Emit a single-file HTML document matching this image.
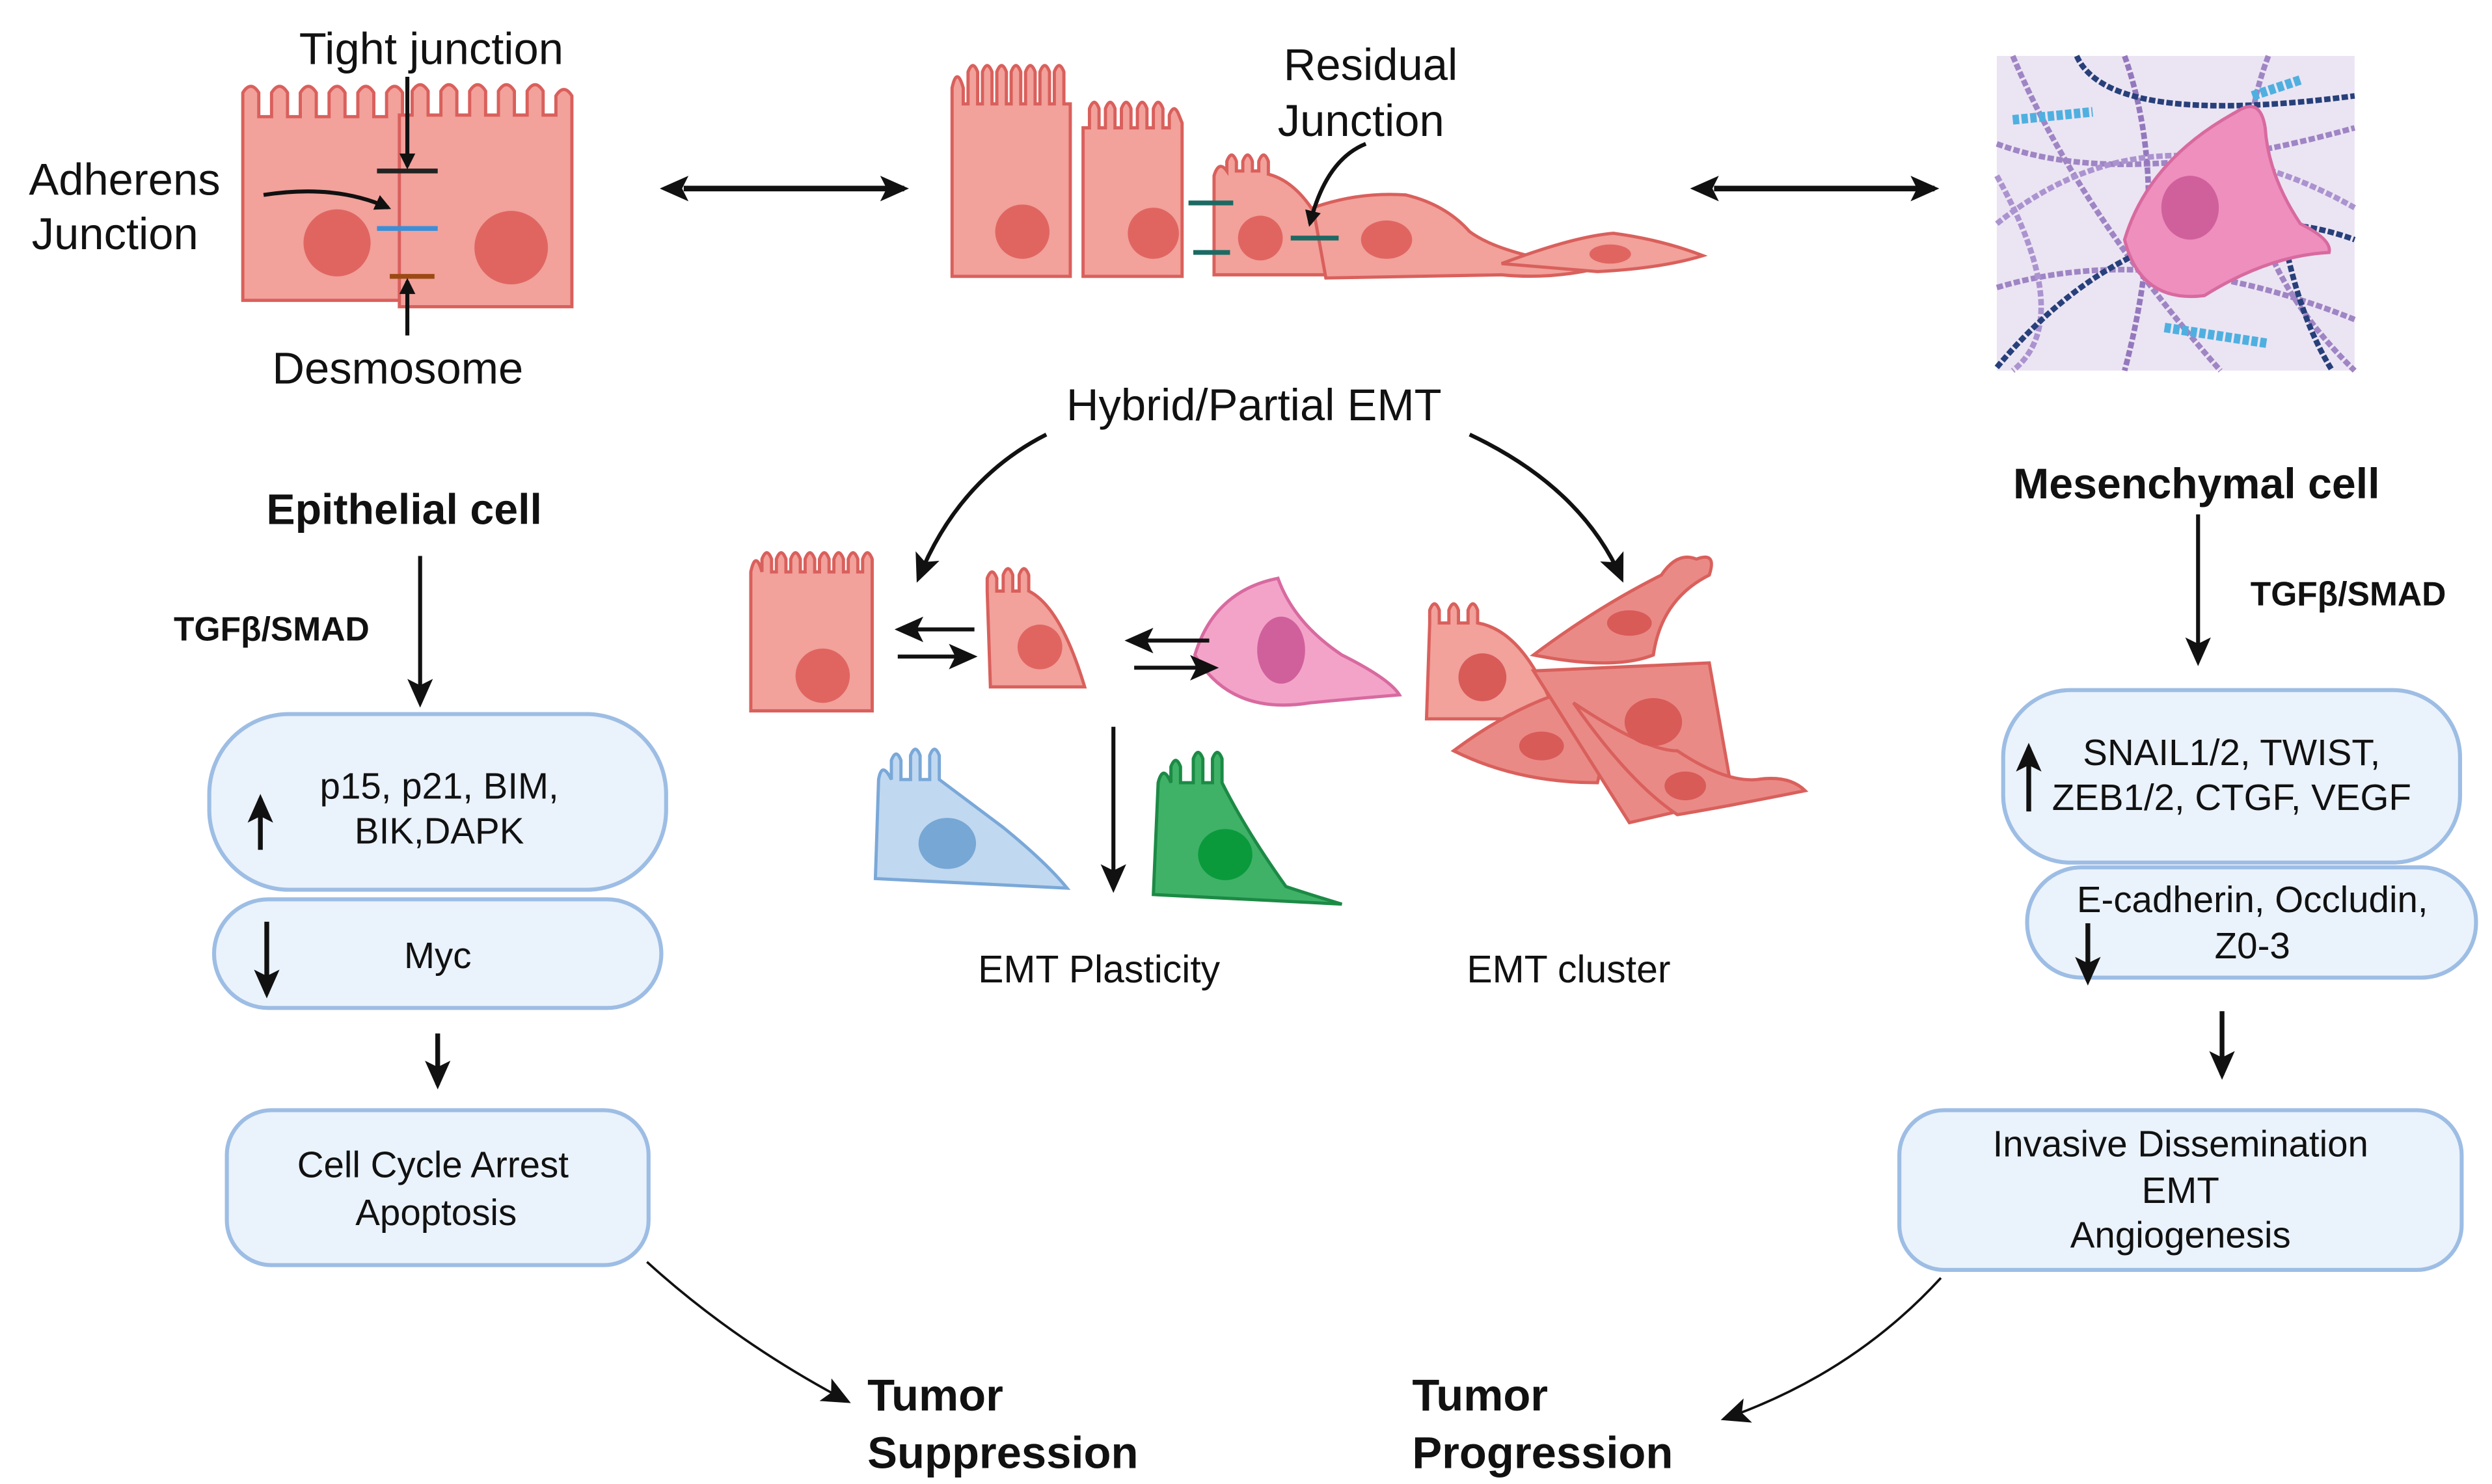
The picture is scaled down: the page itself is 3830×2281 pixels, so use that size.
<!DOCTYPE html>
<html><head><meta charset="utf-8"><style>
html,body{margin:0;padding:0;background:#fff}
svg{display:block}
text{font-family:"Liberation Sans",sans-serif;fill:#111}
</style></head><body>
<svg width="3830" height="2281" viewBox="0 0 1560 929" xmlns="http://www.w3.org/2000/svg">
<defs>
<marker id="ah" markerWidth="10" markerHeight="10" refX="8" refY="5" orient="auto" markerUnits="userSpaceOnUse"><path d="M0,0 L10,5 L0,10 Z" fill="#111"/></marker>
<marker id="ahb" markerWidth="18" markerHeight="16" refX="15" refY="8" orient="auto" markerUnits="userSpaceOnUse"><path d="M0,0 L18,8 L0,16 L4,8 Z" fill="#111"/></marker>
<marker id="ahs" markerWidth="18" markerHeight="16" refX="3" refY="8" orient="auto-start-reverse" markerUnits="userSpaceOnUse"><path d="M0,0 L18,8 L0,16 L4,8 Z" fill="#111"/></marker>
</defs>

<g stroke="#d9605c" stroke-width="2" fill="#f2a19b">
<path d="M152,70 v-12 q5,-8 10,0 v15 h8 v-15 q5,-8 10,0 v15 h8 v-15 q5,-8 10,0 v15 h8 v-15 q5,-8 10,0 v15 h8 v-15 q5,-8 10,0 v15 h8 v-15 q5,-8 10,0 v15 h5 V188 H152 Z"/>
<path d="M250,72 h8 v-15 q5,-8 10,0 v15 h8 v-15 q5,-8 10,0 v15 h8 v-15 q5,-8 10,0 v15 h8 v-15 q5,-8 10,0 v15 h8 v-15 q5,-8 10,0 v15 h8 v-12 q5,-8 10,0 V192 H250 Z"/>
</g>
<circle cx="211" cy="152" r="21" fill="#e06560"/>
<circle cx="320" cy="155" r="23" fill="#e06560"/>
<line x1="236" y1="107" x2="274" y2="107" stroke="#222" stroke-width="3"/>
<line x1="236" y1="143" x2="274" y2="143" stroke="#3b8fd8" stroke-width="3"/>
<line x1="244" y1="173" x2="272" y2="173" stroke="#9b4a14" stroke-width="3"/>
<line x1="255" y1="48" x2="255" y2="104" stroke="#111" stroke-width="2.5" marker-end="url(#ah)"/>
<line x1="255" y1="210" x2="255" y2="176" stroke="#111" stroke-width="2.5" marker-end="url(#ah)"/>
<path d="M165,122 Q210,115 243,130" fill="none" stroke="#111" stroke-width="2.5" marker-end="url(#ah)"/>
<text x="270" y="40" font-size="28" text-anchor="middle">Tight junction</text>
<text x="78" y="122" font-size="28" text-anchor="middle">Adherens</text>
<text x="72" y="156" font-size="28" text-anchor="middle">Junction</text>
<text x="249" y="240" font-size="28" text-anchor="middle">Desmosome</text>

<line x1="428" y1="118" x2="566" y2="118" stroke="#111" stroke-width="3.5" marker-end="url(#ahb)" marker-start="url(#ahs)"/>
<line x1="1073" y1="118" x2="1211" y2="118" stroke="#111" stroke-width="3.5" marker-end="url(#ahb)" marker-start="url(#ahs)"/>

<g stroke="#d9605c" stroke-width="2" fill="#f2a19b">
<path d="M596,55 q3,-14 7,0 v10 h3 v-20 q3,-8 6,0 v20 h3 v-20 q3,-8 6,0 v20 h3 v-20 q3,-8 6,0 v20 h3 v-20 q3,-8 6,0 v20 h3 v-20 q3,-8 6,0 v20 h3 v-20 q3,-8 6,0 v20 h3 v-20 q3,-8 6,0 v20 h4 V173 H596 Z"/>
<path d="M678,80 h4 v-12 q3,-8 6,0 v12 h4 v-12 q3,-8 6,0 v12 h4 v-12 q3,-8 6,0 v12 h4 v-12 q3,-8 6,0 v12 h4 v-12 q3,-8 6,0 v12 h4 v-8 q3,-8 6,0 l2,5 V173 H678 Z"/>
<path d="M760,110 q3,-10 8,-3 v-6 q3,-8 6,0 v6 h4 v-6 q3,-8 6,0 v6 h4 v-6 q3,-8 6,0 v8 q20,5 35,35 L845,172 H760 Z"/>
<path d="M822,130 Q850,120 880,122 Q905,128 920,145 Q940,160 1000,168 Q970,175 940,172 L830,174 Z"/>
<path d="M940,165 Q985,148 1010,146 Q1040,150 1066,160 Q1040,168 1000,170 Z"/>
</g>
<g fill="#e06560">
<circle cx="640" cy="145" r="17"/><circle cx="722" cy="146" r="16"/><circle cx="789" cy="149" r="14"/>
<ellipse cx="868" cy="150" rx="16" ry="12"/><ellipse cx="1008" cy="159" rx="13" ry="6"/>
</g>
<g stroke="#1b6a63" stroke-width="3">
<line x1="744" y1="127" x2="772" y2="127"/><line x1="747" y1="158" x2="770" y2="158"/><line x1="808" y1="149" x2="838" y2="149"/>
</g>
<path d="M855,90 Q830,100 820,140" fill="none" stroke="#111" stroke-width="2.5" marker-end="url(#ah)"/>
<text x="858" y="50" font-size="28" text-anchor="middle">Residual</text>
<text x="852" y="85" font-size="28" text-anchor="middle">Junction</text>

<rect x="1250" y="35" width="224" height="197" fill="#ebe4f3"/>
<g fill="none" stroke-width="3.5" stroke-dasharray="4,1.5">
<path d="M1250,90 Q1330,120 1474,80" stroke="#9f85c4"/>
<path d="M1260,35 Q1300,130 1390,232" stroke="#9f85c4"/>
<path d="M1250,180 Q1350,150 1474,200" stroke="#9f85c4"/>
<path d="M1330,35 Q1360,120 1330,232" stroke="#9478bd"/>
<path d="M1420,35 Q1380,140 1474,232" stroke="#9f85c4"/>
<path d="M1250,140 Q1350,60 1474,130" stroke="#ab93cf"/>
<path d="M1250,110 Q1300,200 1260,232" stroke="#ab93cf"/>
<path d="M1250,230 Q1300,170 1360,150 Q1420,130 1474,150" stroke="#27407a"/>
<path d="M1300,35 Q1320,80 1474,60" stroke="#27407a"/>
<path d="M1430,150 Q1440,200 1460,232" stroke="#27407a"/>
<path d="M1260,75 L1310,70" stroke="#4fb0e0" stroke-width="6"/>
<path d="M1355,205 L1420,215" stroke="#4fb0e0" stroke-width="6"/>
<path d="M1410,60 L1440,50" stroke="#4fb0e0" stroke-width="6"/>
</g>
<path d="M1330,150 Q1345,100 1400,70 Q1415,60 1418,80 Q1420,110 1440,140 Q1460,150 1458,158 Q1420,160 1380,185 Q1340,190 1330,150 Z" fill="#ee8fbd" stroke="#d86aa0" stroke-width="2"/>
<ellipse cx="1371" cy="130" rx="18" ry="20" fill="#d0609c"/>

<text x="785" y="263" font-size="28" text-anchor="middle">Hybrid/Partial EMT</text>
<path d="M655,272 Q600,300 575,362" fill="none" stroke="#111" stroke-width="2.5" marker-end="url(#ahb)"/>
<path d="M920,272 Q990,305 1015,362" fill="none" stroke="#111" stroke-width="2.5" marker-end="url(#ahb)"/>

<g stroke="#d9605c" stroke-width="2" fill="#f2a19b">
<path d="M470,358 q3,-14 7,0 v-8 q3,-8 6,0 v8 h3 v-8 q3,-8 6,0 v8 h3 v-8 q3,-8 6,0 v8 h3 v-8 q3,-8 6,0 v8 h3 v-8 q3,-8 6,0 v8 h3 v-8 q3,-8 6,0 v8 h3 v-8 q3,-8 6,0 v8 h3 v-8 q3,-8 6,0 v10 V445 H470 Z"/>
<path d="M618,370 v-8 q3,-8 6,0 v8 h4 v-10 q3,-8 6,0 v10 h4 v-10 q3,-8 6,0 v10 q20,10 35,60 H620 Z"/>
</g>
<circle cx="515" cy="423" r="17" fill="#e06560"/>
<circle cx="651" cy="405" r="14" fill="#e06560"/>
<path d="M748,410 Q760,370 800,362 Q810,390 840,410 Q870,425 876,435 Q840,438 820,440 Q770,448 748,410 Z" fill="#f3a3c8" stroke="#d86aa0" stroke-width="2"/>
<ellipse cx="802" cy="407" rx="15" ry="21" fill="#d0609c"/>
<path d="M548,550 L550,488 q2,-12 8,0 v-12 q3,-8 6,0 v12 h6 v-15 q3,-8 6,0 v15 h6 v-15 q3,-8 6,0 v15 q20,15 40,30 Q655,540 668,556 Z" fill="#c0d8f0" stroke="#7aa8d8" stroke-width="2"/>
<ellipse cx="593" cy="528" rx="18" ry="16" fill="#77a7d4"/>
<path d="M722,560 L725,490 q3,-12 8,0 v-10 q3,-8 6,0 v10 h8 v-15 q3,-8 6,0 v15 h6 v-15 q3,-8 6,0 v15 q15,30 40,65 Q820,560 840,566 Z" fill="#3fb267" stroke="#1c8a45" stroke-width="2"/>
<ellipse cx="767" cy="535" rx="17" ry="16" fill="#0a9a3c"/>
<line x1="610" y1="394" x2="563" y2="394" stroke="#111" stroke-width="2.5" marker-end="url(#ahb)"/>
<line x1="562" y1="411" x2="609" y2="411" stroke="#111" stroke-width="2.5" marker-end="url(#ahb)"/>
<line x1="757" y1="401" x2="707" y2="401" stroke="#111" stroke-width="2.5" marker-end="url(#ahb)"/>
<line x1="710" y1="418" x2="760" y2="418" stroke="#111" stroke-width="2.5" marker-end="url(#ahb)"/>
<line x1="697" y1="455" x2="697" y2="556" stroke="#111" stroke-width="2.5" marker-end="url(#ahb)"/>
<text x="688" y="615" font-size="24" text-anchor="middle">EMT Plasticity</text>

<g stroke="#d9605c" stroke-width="2" fill="#ea8a86">
<path d="M960,410 Q1000,380 1040,360 Q1050,345 1062,350 Q1075,345 1070,360 Q1040,375 1035,410 Q1010,420 960,410 Z"/>
<path d="M895,390 v-8 q3,-8 6,0 v8 h6 v-8 q3,-8 6,0 v8 h6 v-8 q3,-8 6,0 v8 q30,5 50,60 H893 Z" fill="#f2a19b"/>
<path d="M910,470 Q950,440 990,430 Q1010,450 1000,490 Q950,490 910,470 Z"/>
<path d="M960,420 L1070,415 L1085,500 L1020,515 Z"/>
<path d="M985,440 Q1030,470 1050,470 Q1080,490 1100,488 Q1120,485 1130,495 Q1080,505 1050,510 Q1020,490 985,440 Z"/>
</g>
<g fill="#d85b58">
<ellipse cx="1020" cy="390" rx="14" ry="8"/><circle cx="928" cy="424" r="15"/><ellipse cx="965" cy="467" rx="14" ry="9"/><ellipse cx="1035" cy="452" rx="18" ry="15"/><ellipse cx="1055" cy="492" rx="13" ry="9"/>
</g>
<text x="982" y="615" font-size="24" text-anchor="middle">EMT cluster</text>

<text x="253" y="328" font-size="27" font-weight="bold" text-anchor="middle">Epithelial cell</text>
<line x1="263" y1="348" x2="263" y2="440" stroke="#111" stroke-width="2.5" marker-end="url(#ahb)"/>
<text x="170" y="401" font-size="21" font-weight="bold" text-anchor="middle">TGFβ/SMAD</text>
<g fill="#eaf2fb" stroke="#9dbde4" stroke-width="2.5">
<rect x="131" y="447" width="286" height="110" rx="50"/>
<rect x="134" y="563" width="280" height="68" rx="34"/>
<rect x="142" y="695" width="264" height="97" rx="28"/>
<rect x="1254" y="432" width="286" height="108" rx="42"/>
<rect x="1269" y="543" width="281" height="69" rx="34"/>
<rect x="1189" y="695" width="352" height="100" rx="28"/>
</g>
<text x="275" y="500" font-size="23" text-anchor="middle">p15, p21, BIM,</text>
<text x="275" y="528" font-size="23" text-anchor="middle">BIK,DAPK</text>
<line x1="163" y1="532" x2="163" y2="500" stroke="#111" stroke-width="3" marker-end="url(#ahb)"/>
<text x="274" y="606" font-size="23" text-anchor="middle">Myc</text>
<line x1="167" y1="577" x2="167" y2="622" stroke="#111" stroke-width="3" marker-end="url(#ahb)"/>
<line x1="274" y1="647" x2="274" y2="679" stroke="#111" stroke-width="3" marker-end="url(#ahb)"/>
<text x="271" y="737" font-size="23" text-anchor="middle">Cell Cycle Arrest</text>
<text x="273" y="767" font-size="23" text-anchor="middle">Apoptosis</text>
<path d="M405,790 Q460,840 530,877" fill="none" stroke="#111" stroke-width="1.5" marker-end="url(#ahb)"/>
<text x="543" y="883" font-size="28" font-weight="bold">Tumor</text>
<text x="543" y="919" font-size="28" font-weight="bold">Suppression</text>

<text x="1375" y="312" font-size="27" font-weight="bold" text-anchor="middle">Mesenchymal cell</text>
<line x1="1376" y1="322" x2="1376" y2="414" stroke="#111" stroke-width="2.5" marker-end="url(#ahb)"/>
<text x="1470" y="379" font-size="21" font-weight="bold" text-anchor="middle">TGFβ/SMAD</text>
<text x="1397" y="479" font-size="23" text-anchor="middle">SNAIL1/2, TWIST,</text>
<text x="1397" y="507" font-size="23" text-anchor="middle">ZEB1/2, CTGF, VEGF</text>
<line x1="1270" y1="508" x2="1270" y2="468" stroke="#111" stroke-width="3" marker-end="url(#ahb)"/>
<text x="1410" y="571" font-size="23" text-anchor="middle">E-cadherin, Occludin,</text>
<text x="1410" y="600" font-size="23" text-anchor="middle">Z0-3</text>
<line x1="1307" y1="578" x2="1307" y2="614" stroke="#111" stroke-width="3" marker-end="url(#ahb)"/>
<line x1="1391" y1="633" x2="1391" y2="673" stroke="#111" stroke-width="3" marker-end="url(#ahb)"/>
<text x="1365" y="724" font-size="23" text-anchor="middle">Invasive Dissemination</text>
<text x="1365" y="753" font-size="23" text-anchor="middle">EMT</text>
<text x="1365" y="781" font-size="23" text-anchor="middle">Angiogenesis</text>
<path d="M1215,800 Q1160,860 1080,888" fill="none" stroke="#111" stroke-width="1.5" marker-end="url(#ahb)"/>
<text x="884" y="883" font-size="28" font-weight="bold">Tumor</text>
<text x="884" y="919" font-size="28" font-weight="bold">Progression</text>
</svg>
</body></html>
